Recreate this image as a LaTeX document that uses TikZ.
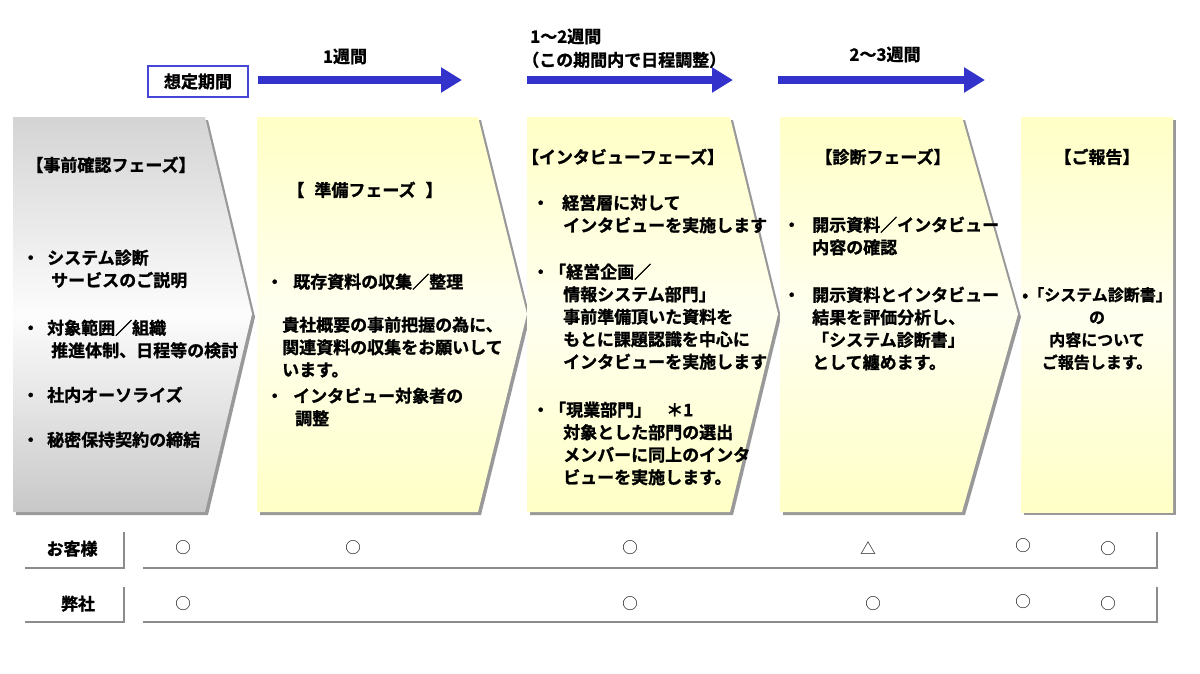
\documentclass[tikz,border=0pt]{standalone}
\usepackage{fontspec}
\setmainfont{Noto Sans CJK JP}[BoldFont={Noto Sans CJK JP Bold}, BoldFeatures={FakeBold=1.3}]
\usetikzlibrary{arrows.meta}
\definecolor{arrowblue}{RGB}{51,51,204}
\definecolor{boxblue}{RGB}{70,70,215}
\definecolor{pale}{RGB}{255,255,198}
\definecolor{palemid}{RGB}{255,255,240}
\definecolor{grayt}{RGB}{212,212,212}
\definecolor{graym}{RGB}{252,252,252}
\definecolor{grayb}{RGB}{200,200,200}
\begin{document}
\begin{tikzpicture}[x=1pt,y=-1pt,
  shadowc/.style={fill=black!40, draw=none},
  grayfill/.style={top color=grayt, bottom color=grayb, middle color=graym, draw=none},
  yelfill/.style={top color=pale, bottom color=pale, middle color=palemid, draw=none},
  txt/.style={inner sep=0pt, align=left, anchor=north west, font={\fontsize{17}{22.5}\selectfont\bfseries}},
  head/.style={inner sep=0pt, anchor=north, font={\fontsize{17}{22.5}\selectfont\bfseries}},
  sym/.style={inner sep=0pt, anchor=center, font={\fontsize{15.5}{15.5}\selectfont}},
  tarrow/.style={draw=arrowblue, line width=8pt, -{Triangle[length=21pt,width=24pt]}},
  rowline/.style={draw=black!45, line width=2.5pt},
  periodbox/.style={draw=boxblue, line width=1.5pt, fill=white, minimum width=100pt, minimum height=31pt, inner sep=0pt, font={\fontsize{17}{17}\selectfont\bfseries}}
]
\useasboundingbox (0,0) rectangle (1200,673);
\fill[white] (0,0) rectangle (1200,673);

% ---------- timeline ----------
\node[periodbox] (period) at (198,81.5) {想定期間};
\coordinate (a1s) at (258,80); \coordinate (a1e) at (462,80);
\coordinate (a2s) at (527,80); \coordinate (a2e) at (733,80);
\coordinate (a3s) at (778,80); \coordinate (a3e) at (985,80);
\draw[tarrow] (a1s) -- (a1e);
\draw[tarrow] (a2s) -- (a2e);
\draw[tarrow] (a3s) -- (a3e);
\node[head] (w1) at (345,48.5) {1週間};
\node[txt] (w2a) at (530,28.5) {1～2週間};
\node[txt] (w2b) at (522,51.5) {（この期間内で日程調整）};
\node[head] (w3) at (885,46.5) {2～3週間};

% ---------- shadows ----------
\fill[shadowc, shift={(3,3)}] (13,117) -- (205,117) -- (252,314) -- (205,512) -- (13,512) -- cycle;
\fill[shadowc, shift={(3,3)}] (257,117) -- (478,117) -- (527,314) -- (478,512) -- (257,512) -- cycle;
\fill[shadowc, shift={(3,3)}] (527,117) -- (730,117) -- (778,314) -- (730,512) -- (527,512) -- cycle;
\fill[shadowc, shift={(3,3)}] (780,117) -- (962,117) -- (1018,314) -- (962,512) -- (780,512) -- cycle;
\fill[shadowc, shift={(3,3)}] (1021,117) -- (1173,117) -- (1173,512) -- (1021,512) -- cycle;

% ---------- phase shapes ----------
\path[grayfill] (13,117) -- (205,117) -- (252,314) -- (205,512) -- (13,512) -- cycle;
\path[yelfill] (257,117) -- (478,117) -- (527,314) -- (478,512) -- (257,512) -- cycle;
\path[yelfill] (527,117) -- (730,117) -- (778,314) -- (730,512) -- (527,512) -- cycle;
\path[yelfill] (780,117) -- (962,117) -- (1018,314) -- (962,512) -- (780,512) -- cycle;
\path[yelfill] (1021,117) -- (1173,117) -- (1173,512) -- (1021,512) -- cycle;

% ---------- phase 1 ----------
\node[head] (h1) at (111,156.5) {【事前確認フェーズ】};
\node[txt] (p1a) at (22,249.5) {・\hspace{8pt}システム診断\\\hspace*{29pt}サービスのご説明};
\node[txt] (p1b) at (22,319.5) {・\hspace{8pt}対象範囲／組織\\\hspace*{29pt}推進体制、日程等の検討};
\node[txt] (p1c) at (22,386.5) {・\hspace{8pt}社内オーソライズ};
\node[txt] (p1d) at (22,431.5) {・\hspace{8pt}秘密保持契約の締結};

% ---------- phase 2 ----------
\node[head] (h2) at (365,181.5) {【\hspace{10pt}準備フェーズ\hspace{10pt}】};
\node[txt] (p2a) at (266,273.5) {・\hspace{10pt}既存資料の収集／整理};
\node[txt] (p2b) at (282,316.5) {貴社概要の事前把握の為に、\\関連資料の収集をお願いして\\います。};
\node[txt] (p2c) at (266,387.5) {・\hspace{10pt}インタビュー対象者の\\\hspace*{29pt}調整};

% ---------- phase 3 ----------
\node[head] (h3) at (623,148.5) {【インタビューフェーズ】};
\node[txt] (p3a) at (532,194.5) {・\hspace{13pt}経営層に対して\\\hspace*{31pt}インタビューを実施します};
\node[txt] (p3b) at (532,263.5) {・「経営企画／\\\hspace*{31pt}情報システム部門」\\\hspace*{31pt}事前準備頂いた資料を\\\hspace*{31pt}もとに課題認識を中心に\\\hspace*{31pt}インタビューを実施します};
\node[txt] (p3c) at (532,401.5) {・「現業部門」\hspace{15pt}＊1\\\hspace*{31pt}対象とした部門の選出\\\hspace*{31pt}メンバーに同上のインタ\\\hspace*{31pt}ビューを実施します。};

% ---------- phase 4 ----------
\node[head] (h4) at (883,148.5) {【診断フェーズ】};
\node[txt] (p4a) at (783,216.5) {・\hspace{12pt}開示資料／インタビュー\\\hspace*{29pt}内容の確認};
\node[txt] (p4b) at (783,286.5) {・\hspace{12pt}開示資料とインタビュー\\\hspace*{29pt}結果を評価分析し、\\\hspace*{29pt}「システム診断書」\\\hspace*{29pt}として纏めます。};

% ---------- phase 5 ----------
\node[head] (h5) at (1097,148.5) {【ご報告】};
\node[head, align=center, font={\fontsize{16}{22.5}\selectfont\bfseries}] (p5) at (1097,287) {•「システム診断書」\\の\\内容について\\ご報告します。};

% ---------- rows ----------
\node[head] (r1) at (72,540.5) {お客様};
\node[head] (r2) at (78,595.5) {弊社};
\draw[rowline] (124,532) -- (124,568) -- (25,568);
\draw[rowline] (143,568) -- (1157,568) -- (1157,532);
\draw[rowline] (124,587) -- (124,622) -- (25,622);
\draw[rowline] (143,622) -- (1157,622) -- (1157,587);

\node[sym] (m11) at (183,548) {○};
\node[sym] (m12) at (353,548) {○};
\node[sym] (m13) at (630,548) {○};
\node[sym] (m14) at (868,548) {△};
\node[sym] (m15) at (1023,546) {○};
\node[sym] (m16) at (1108,549) {○};
\node[sym] (m21) at (183,604) {○};
\node[sym] (m23) at (630,604) {○};
\node[sym] (m24) at (873,604) {○};
\node[sym] (m25) at (1023,602) {○};
\node[sym] (m26) at (1108,604) {○};
\end{tikzpicture}
\end{document}
